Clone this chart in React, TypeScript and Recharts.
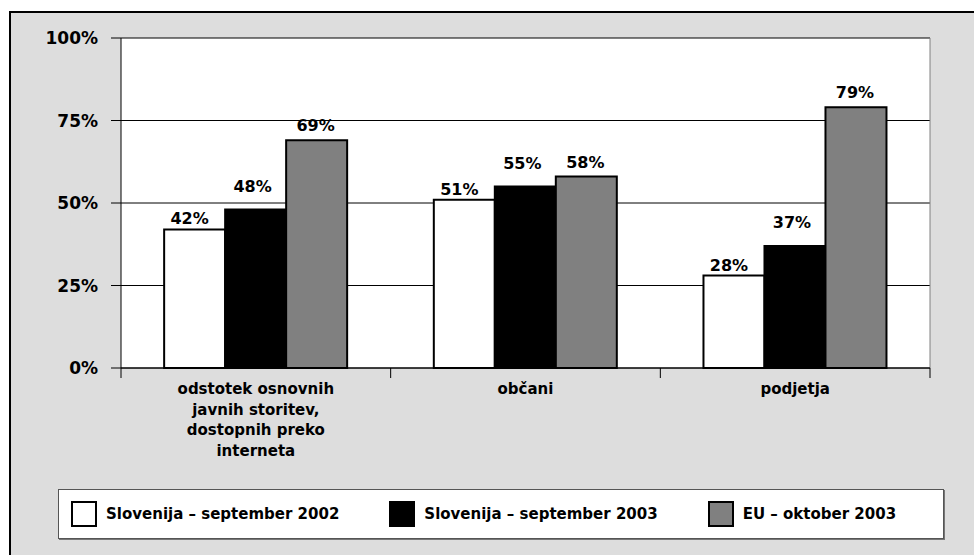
import React from "react";
import { BarChart, Bar, XAxis, YAxis, CartesianGrid, LabelList } from "recharts";

// categories and values
const categories = [
  "odstotek osnovnih javnih storitev, dostopnih preko interneta",
  "občani",
  "podjetja",
];
const slovenija2002 = [42, 51, 28];
const slovenija2003 = [48, 55, 37];
const eu2003 = [69, 58, 79];
const yTicks = [0, 25, 50, 75, 100];
const seriesNames = [
  "Slovenija – september 2002",
  "Slovenija – september 2003",
  "EU – oktober 2003",
];

const data = categories.map((name, i) => ({
  name,
  s2002: slovenija2002[i],
  s2003: slovenija2003[i],
  eu: eu2003[i],
}));

const FONT = "'DejaVu Sans', Verdana, sans-serif";
const W = 974;
const H = 555;
const PLOT_LEFT = 121;
const PLOT_TOP = 38;
const PLOT_RIGHT = 930;
const PLOT_BOTTOM = 368;
const X_AXIS_H = 100;

const series = [
  { key: "s2002", name: seriesNames[0], fill: "#ffffff", dx: -5, offset: 5 },
  { key: "s2003", name: seriesNames[1], fill: "#000000", dx: -3, offset: 18 },
  { key: "eu", name: seriesNames[2], fill: "#808080", dx: -1, offset: 9 },
];

function wrapWords(text: string, maxChars: number) {
  const lines: string[] = [];
  let cur = "";
  text.split(" ").forEach((w) => {
    const next = cur ? cur + " " + w : w;
    if (next.length > maxChars && cur) {
      lines.push(cur);
      cur = w;
    } else {
      cur = next;
    }
  });
  if (cur) lines.push(cur);
  return lines;
}

function CategoryTick(props: any) {
  const { x, y, payload, index } = props;
  const bw = (PLOT_RIGHT - PLOT_LEFT) / categories.length;
  const lines = wrapWords(String(payload.value), 18);
  return (
    <g>
      <line x1={x - bw / 2} x2={x - bw / 2} y1={y} y2={y + 10} stroke="#000" />
      {index === categories.length - 1 && (
        <line x1={x + bw / 2} x2={x + bw / 2} y1={y} y2={y + 10} stroke="#000" />
      )}
      <text
        x={x}
        y={y + 26}
        textAnchor="middle"
        fontFamily={FONT}
        fontSize={15}
        fontWeight={700}
        fill="#000"
      >
        {lines.map((l, i) => (
          <tspan key={i} x={x} dy={i === 0 ? 0 : 20.5}>
            {l}
          </tspan>
        ))}
      </text>
    </g>
  );
}

function makeLabel(dx: number, offset: number) {
  return (props: any) => {
    const { x, y, width, value } = props;
    return (
      <text
        x={x + width / 2 + dx}
        y={y - offset}
        textAnchor="middle"
        fontFamily={FONT}
        fontSize={16}
        fontWeight={700}
        fill="#000"
      >
        {`${value}%`}
      </text>
    );
  };
}

export default function App() {
  return (
    <div style={{ position: "absolute", left: 0, top: 0, width: W, height: H, background: "#fff", overflow: "hidden" }}>
      <div
        style={{
          position: "absolute",
          left: 9,
          top: 11,
          width: W,
          height: H,
          background: "#dddddd",
          borderLeft: "2px solid #000",
          borderTop: "2px solid #000",
        }}
      />
      <div style={{ position: "absolute", left: 0, top: 0 }}>
        <BarChart
          width={W}
          height={H}
          data={data}
          margin={{ top: PLOT_TOP, right: W - PLOT_RIGHT, left: 0, bottom: H - PLOT_BOTTOM - X_AXIS_H }}
          barCategoryGap="16%"
          barGap={0}
          style={{ fontFamily: FONT }}
        >
          <CartesianGrid vertical={false} stroke="#000" fill="#fff" />
          <CartesianGrid horizontal={false} verticalPoints={[PLOT_RIGHT]} stroke="#808080" />
          <XAxis
            dataKey="name"
            height={X_AXIS_H}
            tickSize={0}
            tickMargin={0}
            tickLine={false}
            axisLine={{ stroke: "#000" }}
            tick={<CategoryTick />}
            interval={0}
          />
          <YAxis
            width={PLOT_LEFT}
            domain={[0, 100]}
            ticks={yTicks}
            tickFormatter={(v: number) => `${v}%`}
            tickSize={10}
            tickMargin={13}
            axisLine={{ stroke: "#000" }}
            tickLine={{ stroke: "#000" }}
            tick={{ fontSize: 17, fontWeight: 700, fill: "#000", fontFamily: FONT }}
          />
          {series.map((s) => (
            <Bar
              key={s.key}
              dataKey={s.key}
              name={s.name}
              fill={s.fill}
              stroke="#000"
              strokeWidth={2}
              isAnimationActive={false}
            >
              <LabelList dataKey={s.key} content={makeLabel(s.dx, s.offset)} />
            </Bar>
          ))}
        </BarChart>
      </div>
      <div
        style={{
          position: "absolute",
          left: 58,
          top: 489,
          width: 886,
          height: 50,
          boxSizing: "border-box",
          background: "#fff",
          border: "1px solid #555",
          boxShadow: "1px 1px 0 #777",
          display: "flex",
          alignItems: "center",
          paddingLeft: 12,
          gap: 50,
          fontFamily: FONT,
          fontSize: 15,
          fontWeight: 700,
          color: "#000",
        }}
      >
        {series.map((s) => (
          <div key={s.key} style={{ display: "flex", alignItems: "center" }}>
            <div
              style={{
                width: 26,
                height: 26,
                boxSizing: "border-box",
                border: "2px solid #000",
                background: s.fill,
                marginRight: 9,
              }}
            />
            <span style={{ whiteSpace: "nowrap" }}>{s.name}</span>
          </div>
        ))}
      </div>
    </div>
  );
}
